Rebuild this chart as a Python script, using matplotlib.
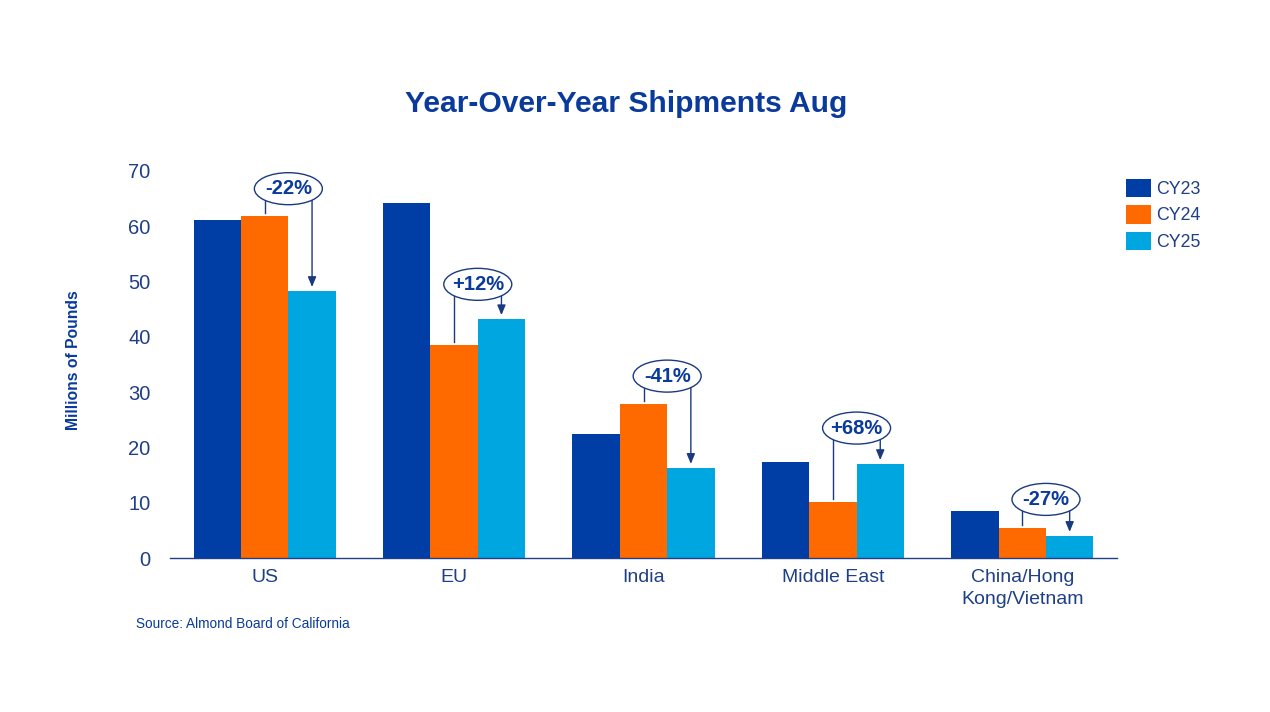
import matplotlib
matplotlib.use("Agg")
import matplotlib.pyplot as plt
from matplotlib.patches import Ellipse
import numpy as np

plt.rcParams['font.family'] = ['Liberation Sans', 'DejaVu Sans']

categories = ["US", "EU", "India", "Middle East", "China/Hong\nKong/Vietnam"]
series_names = ["CY23", "CY24", "CY25"]
cy23 = [61.1, 64.3, 22.4, 17.3, 8.5]
cy24 = [61.8, 38.5, 27.8, 10.1, 5.4]
cy25 = [48.3, 43.2, 16.3, 17.0, 4.0]
changes = ["-22%", "+12%", "-41%", "+68%", "-27%"]
yticks = [0, 10, 20, 30, 40, 50, 60, 70]

colors = ["#003DA5", "#FF6A00", "#00A6E0"]
text_col = "#1F3F86"
title_col = "#0A3A9C"
annot_col = "#1A3A80"

fig = plt.figure(figsize=(12.7, 7.12), dpi=100)
ax = fig.add_axes([170/1270, 1-558/712, (1117-170)/1270, (558-171)/712])

x = np.arange(len(categories))
w = 0.25
series = [cy23, cy24, cy25]
handles = []
for i, (vals, c, name) in enumerate(zip(series, colors, series_names)):
    b = ax.bar(x + (i-1)*w, vals, width=w, color=c, label=name, zorder=2)
    handles.append(b)

ax.set_xlim(-0.5, 4.5)
ax.set_ylim(0, 70)
ax.set_yticks(yticks)
ax.set_xticks(x)
ax.set_xticklabels(categories, fontsize=14, color=text_col, linespacing=1.4)
ax.set_yticklabels([str(t) for t in yticks], fontsize=14.5, color=text_col)
ax.tick_params(axis='both', length=0)
ax.tick_params(axis='y', pad=14)
ax.tick_params(axis='x', pad=8)
for s in ["top", "right", "left"]:
    ax.spines[s].set_visible(False)
ax.spines["bottom"].set_color(text_col)
ax.spines["bottom"].set_linewidth(1.0)

# annotations
px_per_unit_y = (558-171)/70.0
px_per_unit_x = (1117-170)/5.0
ew_px, eh_px = 68, 32
ew, eh = ew_px/px_per_unit_x, eh_px/px_per_unit_y
offsets = [5.0, 6.3, 5.1, 6.5, 5.2]
for k in range(len(categories)):
    x1 = x[k]
    x2 = x[k] + w
    xc = (x1 + x2) / 2
    yc = max(cy24[k], cy25[k]) + offsets[k]
    ell = Ellipse((xc, yc), ew, eh, facecolor="white", edgecolor=annot_col, lw=1.0, zorder=5)
    ax.add_patch(ell)
    ax.text(xc, yc, changes[k], ha="center", va="center", fontsize=14.5, fontweight="bold",
            color=title_col, zorder=6)
    dx = (w/2) / (ew/2)
    dy = np.sqrt(max(0, 1 - dx**2)) * eh/2
    ystart = yc - dy
    gap = 3/px_per_unit_y
    ax.plot([x1, x1], [ystart, cy24[k] + gap], color=annot_col, lw=1.0, zorder=4)
    ax.annotate("", xy=(x2, cy25[k] + 4/px_per_unit_y), xytext=(x2, ystart),
                arrowprops=dict(arrowstyle="-|>,head_length=0.6,head_width=0.25",
                                color=annot_col, lw=1.0, shrinkA=0, shrinkB=0), zorder=4)

fig.text(626/1270, 1-104/712, "Year-Over-Year Shipments Aug", ha="center", va="center",
         fontsize=21.6, fontweight="bold", color=title_col)
fig.text(73/1270, 1-360/712, "Millions of Pounds", rotation=90, ha="center", va="center",
         fontsize=11.3, fontweight="bold", color=title_col)
fig.text(136/1270, 1-624/712, "Source: Almond Board of California", ha="left", va="center",
         fontsize=9.8, color=title_col)

leg = fig.legend(handles=handles, labels=series_names, loc="upper left",
                 bbox_to_anchor=(1119/1270, 1-172/712), frameon=False,
                 fontsize=12.8, handlelength=1.4, handleheight=1.2, labelspacing=0.4,
                 handletextpad=0.3, borderaxespad=0)
for t in leg.get_texts():
    t.set_color(text_col)

fig.savefig("out.png", dpi=100)
